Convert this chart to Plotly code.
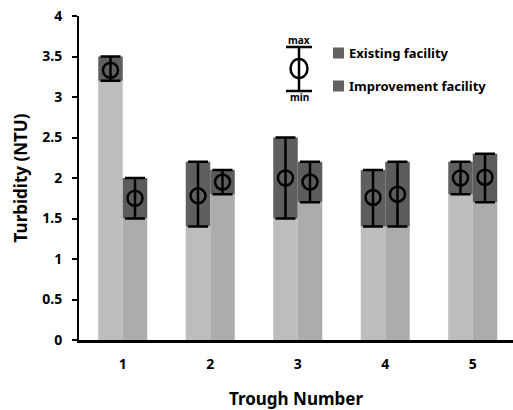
import plotly.graph_objects as go

troughs = ["1", "2", "3", "4", "5"]
existing_min = [3.2, 1.4, 1.5, 1.4, 1.8]
existing_max = [3.5, 2.2, 2.5, 2.1, 2.2]
existing_mean = [3.33, 1.78, 2.0, 1.76, 2.0]
improve_min = [1.5, 1.8, 1.7, 1.4, 1.7]
improve_max = [2.0, 2.1, 2.2, 2.2, 2.3]
improve_mean = [1.75, 1.95, 1.95, 1.8, 2.01]
y_ticks = [0, 0.5, 1, 1.5, 2, 2.5, 3, 3.5, 4]
series_names = ["Existing facility", "Improvement facility"]

W, H = 513, 410
L, R, T, B = 79, 0, 16, 70
FONT = "Noto Sans"

fig = go.Figure()
groups = [
    ("ex", existing_min, existing_max, existing_mean, "#bdbdbd", "#5f5f5f"),
    ("im", improve_min, improve_max, improve_mean, "#acacac", "#5c5c5c"),
]
for i, (g, mn, mx, mean, light, dark) in enumerate(groups):
    fig.add_trace(go.Bar(x=troughs, y=mn, offsetgroup=g, marker_color=light,
                         marker_line_width=0, showlegend=False))
    fig.add_trace(go.Bar(x=troughs, y=[a - b for a, b in zip(mx, mn)], base=mn,
                         offsetgroup=g, marker_color=dark, marker_line_width=0,
                         name=series_names[i], showlegend=False))
for i, (g, mn, mx, mean, light, dark) in enumerate(groups):
    fig.add_trace(go.Scatter(
        x=troughs, y=mean, mode="markers", offsetgroup=g, showlegend=False,
        marker=dict(symbol="circle-open", size=15, color="black", line=dict(width=2.5, color="black")),
        error_y=dict(type="data", symmetric=False,
                     array=[a - b for a, b in zip(mx, mean)],
                     arrayminus=[b - a for a, b in zip(mn, mean)],
                     color="black", thickness=2.5, width=10),
    ))

fig.update_layout(
    width=W, height=H, margin=dict(l=L, r=R, t=T, b=B),
    plot_bgcolor="white", paper_bgcolor="white",
    barmode="group", bargap=0.44, bargroupgap=0,
    scattermode="group", scattergap=0.44,
    font=dict(family=FONT, color="black", size=13),
    showlegend=False,
)
fig.update_xaxes(type="category", range=[-0.5, 4.46], showline=True, linecolor="black",
                 linewidth=2.5, ticks="", showgrid=False, zeroline=False,
                 tickfont=dict(family=FONT, size=14, weight="bold"), ticklabelstandoff=9,
                 title=dict(text="Trough Number", font=dict(family=FONT, size=17, weight="bold"), standoff=22))
fig.update_yaxes(range=[0, 4], tickvals=y_ticks, ticktext=[f"{v:g}" for v in y_ticks],
                 showline=True, linecolor="black", linewidth=2, ticks="outside", ticklen=5,
                 tickwidth=2, tickcolor="black", showgrid=False, zeroline=False,
                 tickfont=dict(family=FONT, size=14, weight="bold"), ticklabelstandoff=7,
                 title=dict(text="Turbidity (NTU)", font=dict(family=FONT, size=17, weight="bold"), standoff=10))

# custom legend (paper coordinates from pixel positions)
pw, ph = W - L - R, H - T - B
def px(x):
    return (x - L) / pw
def py(y):
    return (H - B - y) / ph

line = dict(color="black", width=2.5)
cx = 299
fig.add_shape(type="line", xref="paper", yref="paper", x0=px(cx), x1=px(cx), y0=py(47), y1=py(91), line=line)
fig.add_shape(type="line", xref="paper", yref="paper", x0=px(286), x1=px(312), y0=py(47), y1=py(47), line=line)
fig.add_shape(type="line", xref="paper", yref="paper", x0=px(286), x1=px(312), y0=py(91), y1=py(91), line=line)
fig.add_shape(type="circle", xref="paper", yref="paper", x0=px(290.5), x1=px(307.5), y0=py(59), y1=py(78),
              line=line, fillcolor="rgba(0,0,0,0)")
fig.add_annotation(xref="paper", yref="paper", x=px(cx), y=py(40), text="max", showarrow=False,
                   font=dict(family=FONT, size=10, weight="bold"), xanchor="center", yanchor="middle")
fig.add_annotation(xref="paper", yref="paper", x=px(cx), y=py(97), text="min", showarrow=False,
                   font=dict(family=FONT, size=10, weight="bold"), xanchor="center", yanchor="middle")
for yc, name in [(53, series_names[0]), (86, series_names[1])]:
    fig.add_shape(type="rect", xref="paper", yref="paper", x0=px(333), x1=px(344), y0=py(yc - 5.5), y1=py(yc + 5.5),
                  fillcolor="#626262", line=dict(width=0))
    fig.add_annotation(xref="paper", yref="paper", x=px(347), y=py(yc), text=name, showarrow=False,
                       font=dict(family=FONT, size=13, weight="bold"), xanchor="left", yanchor="middle")

fig.write_html("out.html", config={"displayModeBar": False},
               post_script="document.body.style.margin='0';document.body.style.overflow='hidden';")
